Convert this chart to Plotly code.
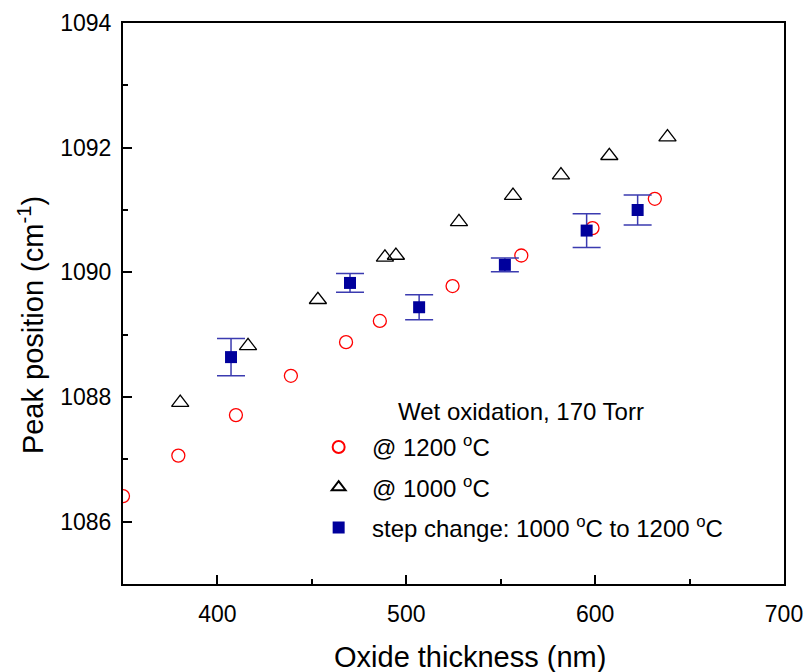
import plotly.graph_objects as go

# 1200 C wet oxidation
x_1200 = [350.0, 379.3, 409.8, 438.9, 468.1, 486.0, 524.5, 560.9, 598.6, 631.6]
y_1200 = [1086.41, 1087.06, 1087.71, 1088.34, 1088.88, 1089.22, 1089.78, 1090.27, 1090.71, 1091.18]

# 1000 C wet oxidation
x_1000 = [380.3, 416.2, 453.2, 488.7, 494.5, 527.9, 556.5, 581.9, 607.5, 638.3]
y_1000 = [1087.91, 1088.82, 1089.56, 1090.24, 1090.27, 1090.81, 1091.23, 1091.56, 1091.87, 1092.17]

# step change 1000 C -> 1200 C
x_step = [407.2, 470.2, 506.8, 552.2, 595.5, 622.5]
y_step = [1088.64, 1089.83, 1089.44, 1090.12, 1090.67, 1091.00]
e_step = [0.30, 0.15, 0.20, 0.11, 0.27, 0.24]

FONT = "Liberation Sans, Arial, sans-serif"
NB = "\u00a0\u00a0"

fig = go.Figure()
fig.add_trace(go.Scatter(
    x=x_1200, y=y_1200, mode="markers", name=NB + "@ 1200 <sup>o</sup>C",
    legendgroup="a",
    marker=dict(symbol="circle-open", size=13, color="#FF0000", line=dict(width=1.3, color="#FF0000"))))
fig.add_trace(go.Scatter(
    x=x_1000, y=y_1000, mode="markers", name=NB + "@ 1000 <sup>o</sup>C",
    legendgroup="b",
    marker=dict(symbol="triangle-up-open", size=15, color="#000000", line=dict(width=1.3, color="#000000"))))
fig.add_trace(go.Scatter(
    x=x_step, y=y_step, mode="markers", name=NB + "step change: 1000 <sup>o</sup>C to 1200 <sup>o</sup>C",
    legendgroup="c",
    marker=dict(symbol="square", size=12, color="#00009C"),
    error_y=dict(type="data", array=e_step, visible=True, color="#3B3BB0", thickness=1.5, width=14)))

axis_common = dict(
    showline=True, linecolor="black", linewidth=2, mirror=True,
    ticks="inside", ticklen=9, tickwidth=2, tickcolor="black",
    showgrid=False, zeroline=False, automargin=False,
    tickfont=dict(family=FONT, size=23, color="black"),
)

fig.update_xaxes(range=[350, 700], dtick=100, tick0=400, ticklabelstandoff=8,
                 minor=dict(ticks="inside", ticklen=5, tickwidth=2, dtick=50, tickcolor="black"),
                 **axis_common)
fig.update_yaxes(range=[1085, 1094], dtick=2, tick0=1086, ticklabelstandoff=5,
                 minor=dict(ticks="inside", ticklen=5, tickwidth=2, dtick=1, tickcolor="black"),
                 **axis_common)

fig.add_annotation(text="Oxide thickness (nm)", xref="paper", yref="paper",
                   x=0.525, y=-0.130, xanchor="center", yanchor="middle", showarrow=False,
                   font=dict(family=FONT, size=29, color="black"))
fig.add_annotation(text="Peak position (cm<sup>-1</sup>)", xref="paper", yref="paper",
                   x=-0.139, y=0.4617, xanchor="center", yanchor="middle", showarrow=False,
                   textangle=-90, font=dict(family=FONT, size=29, color="black"))
fig.add_annotation(text="Wet oxidation, 170 Torr", xref="paper", yref="paper",
                   x=0.413, y=0.3066, xanchor="left", yanchor="middle", showarrow=False,
                   font=dict(family=FONT, size=24, color="black"))

fig.update_layout(
    width=808, height=672,
    margin=dict(l=123, r=24, t=23, b=88, autoexpand=False),
    paper_bgcolor="white", plot_bgcolor="white",
    font=dict(family=FONT, color="black"),
    showlegend=True,
    legend=dict(x=0.296, y=0.2835, xanchor="left", yanchor="top",
                bgcolor="rgba(0,0,0,0)", borderwidth=0,
                font=dict(family=FONT, size=24, color="black"),
                traceorder="grouped", tracegroupgap=6, itemsizing="constant"),
)

fig.write_html("out.html", config={"displayModeBar": False},
               post_script="document.body.style.margin='0';document.body.style.overflow='hidden';")
